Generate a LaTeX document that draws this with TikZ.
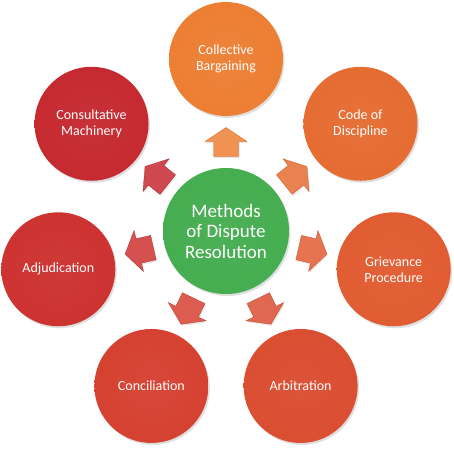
\documentclass[tikz,border=0pt]{standalone}
\usepackage{fontspec}
\setmainfont{Carlito}
\usetikzlibrary{shadows}

\definecolor{cbcol}{HTML}{EC7A2C}
\definecolor{cdcol}{HTML}{E4672A}
\definecolor{gpcol}{HTML}{E0562A}
\definecolor{arcol}{HTML}{D9472A}
\definecolor{cncol}{HTML}{D43A29}
\definecolor{adcol}{HTML}{CB2B28}
\definecolor{cmcol}{HTML}{C42229}
\definecolor{hubcol}{HTML}{3FAA4A}

\colorlet{basecol}{red}
\pgfdeclareradialshading[basecol]{buttonshade}{\pgfpoint{0bp}{0bp}}{%
    color(0bp)=(basecol!93!white); color(30bp)=(basecol!97!white);
    color(44bp)=(basecol); color(46.5bp)=(basecol!85!white);
    color(48.5bp)=(basecol!85!black); color(50bp)=(basecol!60!black)}

\begin{document}
\begin{tikzpicture}[x=1pt, y=1pt,
        method/.style={circle, minimum size=114pt, inner sep=0pt, align=center,
            text=white, font=\fontsize{14}{16}\selectfont,
            /utils/exec={\colorlet{basecol}{#1}}, shading=buttonshade,
            drop shadow={opacity=0.25, shadow xshift=1.5pt, shadow yshift=-2pt}},
        hub/.style={method=hubcol, minimum size=126pt,
            font=\fontsize{19}{20.5}\selectfont},
        pointer/.style={fill=#1!82!white, draw=#1!90!black, line width=0.3pt,
            drop shadow={opacity=0.2, shadow xshift=1pt, shadow yshift=-1.5pt}}]

    \useasboundingbox (-226,-219) rectangle (228,231);

    \node[hub] (hub) at (0,0) {Methods\\of Dispute\\Resolution};

    % seven methods round the hub, each with its pointer
    \foreach \ang/\col/\name/\txt in {
            90/cbcol/cb/{Collective\\Bargaining},
            38.57/cdcol/cd/{Code of\\Discipline},
            -12.86/gpcol/gp/{Grievance\\Procedure},
            -64.29/arcol/ar/{Arbitration},
            -115.71/cncol/cn/{Conciliation},
            -167.14/adcol/ad/{Adjudication},
            141.43/cmcol/cm/{Consultative\\Machinery}} {
        \node[method=\col] (\name) at (\ang:172) {\txt};
        \coordinate (p\name) at (\ang:89);
        \path[pointer=\col, shift={(p\name)}, rotate=\ang]
            (-14.5,-12.5) -- (0.5,-12.5) -- (0.5,-21) -- (14.5,0)
            -- (0.5,21) -- (0.5,12.5) -- (-14.5,12.5) -- cycle;
    }

\end{tikzpicture}
\end{document}
